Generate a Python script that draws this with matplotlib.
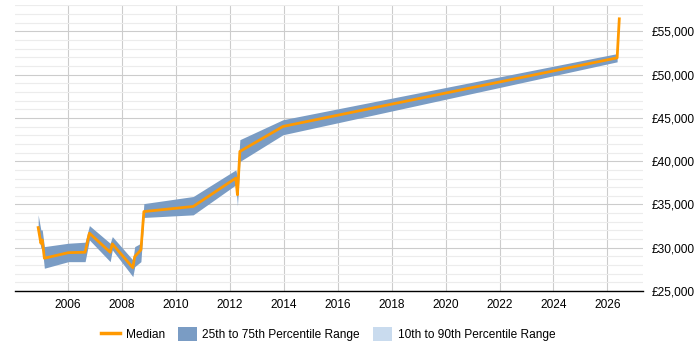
import matplotlib
matplotlib.use("Agg")
import matplotlib.pyplot as plt
import numpy as np
from matplotlib.lines import Line2D
from matplotlib.patches import Patch
from matplotlib.ticker import FuncFormatter, MultipleLocator

plt.rcParams['font.family'] = ['Liberation Sans', 'DejaVu Sans']

years = [2004.89, 2004.99, 2005.04, 2005.12, 2006.01, 2006.63, 2006.79, 2007.56, 2007.64,
         2008.40, 2008.47, 2008.70, 2008.81, 2010.64, 2012.22, 2012.28, 2012.37, 2013.97,
         2026.36, 2026.44]
median = [32330, 30520, 30900, 28790, 29430, 29480, 31680, 29480, 30440,
          27700, 28970, 29750, 34180, 34770, 38050, 36120, 41130, 44020,
          51950, 56460]
p25 = [31700, 29980, 29980, 27630, 28390, 28390, 30900, 28390, 29750,
       26660, 27810, 28390, 33500, 33800, 37270, 34840, 39970, 43060,
       51490, np.nan]
p75 = [33800, 32060, 32060, 30130, 30520, 30640, 32560, 30520, 31290,
       28590, 30130, 30520, 35100, 35920, 39000, 38200, 42490, 44800,
       52440, np.nan]

band_color = '#7a9cc4'
light_color = '#c9dbee'
line_color = '#ff9900'

fig = plt.figure(figsize=(7, 3.5), dpi=100)
ax = fig.add_axes([0.0214, 0.1686, 0.8972, 0.8157])

ax.fill_between(years, p25, p75, color=band_color, linewidth=0, zorder=2)
ax.plot(years, median, color=line_color, linewidth=2, zorder=3)

ax.set_xlim(2004.03, 2027.32)
ax.set_ylim(25000, 58000)

ax.xaxis.set_major_locator(MultipleLocator(2))
ax.yaxis.set_major_locator(MultipleLocator(5000))
ax.yaxis.set_minor_locator(MultipleLocator(1000))
ax.yaxis.tick_right()
ax.yaxis.set_major_formatter(FuncFormatter(lambda v, p: f"£{int(v):,}"))

ax.grid(axis='y', which='major', color='#cccccc', linewidth=0.8, zorder=0)
ax.grid(axis='y', which='minor', color='#ececec', linewidth=0.8, zorder=0)
ax.grid(axis='x', which='major', color='#cccccc', linewidth=0.8, zorder=0)
ax.set_axisbelow(True)

for s in ['top', 'left', 'right']:
    ax.spines[s].set_visible(False)
ax.spines['bottom'].set_color('black')
ax.spines['bottom'].set_linewidth(1)

ax.tick_params(axis='x', length=0, labelsize=8.6, pad=6, colors='black')
ax.tick_params(axis='y', which='both', length=0, labelsize=8.6, pad=6, colors='black')

handles = [Line2D([0], [0], color=line_color, linewidth=2.5),
           Patch(facecolor=band_color, edgecolor='none'),
           Patch(facecolor=light_color, edgecolor='none')]
labels = ['Median', '25th to 75th Percentile Range', '10th to 90th Percentile Range']
fig.legend(handles, labels, loc='center', bbox_to_anchor=(0.469, 0.045), ncol=3,
           frameon=False, fontsize=8.6, handlelength=1.6, handleheight=1.35,
           columnspacing=1.1, handletextpad=0.45)

fig.savefig('out.png', dpi=100)
